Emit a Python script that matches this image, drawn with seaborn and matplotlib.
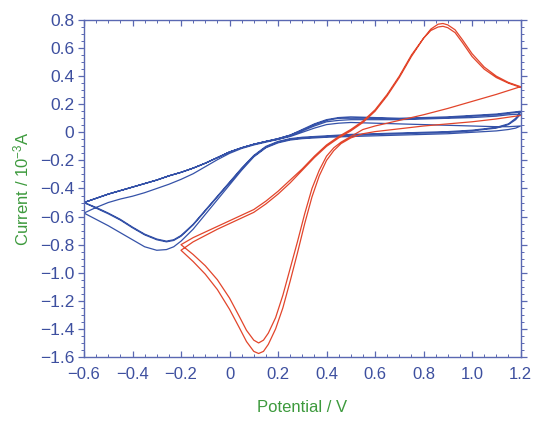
import numpy as np
import pandas as pd
import matplotlib
matplotlib.use("Agg")
import matplotlib.pyplot as plt
from matplotlib.ticker import MultipleLocator, FuncFormatter
import seaborn as sns

# ---- red CV (-0.2 .. 1.2 V), two cycles ----
red_rev_v = [1.2, 1.1, 1.0, 0.9, 0.8, 0.7, 0.6, 0.55]
red_rev_c = [0.12, 0.095, 0.075, 0.06, 0.045, 0.025, 0.005, -0.01]
red_rev_b = [0.325, 0.27, 0.22, 0.17, 0.125, 0.085, 0.045, 0.02]

red_cat_v = [0.5, 0.46, 0.43, 0.4, 0.37, 0.34, 0.31, 0.28, 0.25, 0.22, 0.19,
             0.16, 0.14, 0.12, 0.1, 0.07, 0.04, 0.0, -0.05, -0.1, -0.15, -0.2]
red_cat_outer = [-0.04, -0.08, -0.13, -0.2, -0.31, -0.46, -0.65, -0.86, -1.06,
                 -1.25, -1.4, -1.51, -1.56, -1.575, -1.56, -1.49, -1.39, -1.26,
                 -1.12, -1.01, -0.92, -0.84]
red_cat_inner = [-0.03, -0.07, -0.11, -0.17, -0.27, -0.4, -0.58, -0.78, -0.97,
                 -1.16, -1.32, -1.43, -1.48, -1.5, -1.48, -1.41, -1.31, -1.18,
                 -1.05, -0.95, -0.87, -0.8]

red_an_v = [-0.15, -0.1, -0.05, 0.0, 0.05, 0.1, 0.15, 0.2, 0.25, 0.3, 0.35,
            0.4, 0.45, 0.5, 0.55, 0.6, 0.65, 0.7, 0.75, 0.8, 0.83, 0.86, 0.88,
            0.9, 0.93, 0.96, 1.0, 1.05, 1.1, 1.15, 1.2]
red_an_outer = [-0.78, -0.735, -0.69, -0.65, -0.61, -0.57, -0.51, -0.44, -0.36,
                -0.27, -0.18, -0.1, -0.04, 0.01, 0.07, 0.15, 0.26, 0.39, 0.54,
                0.67, 0.735, 0.77, 0.775, 0.765, 0.73, 0.66, 0.56, 0.465, 0.4,
                0.355, 0.325]
red_an_inner = [-0.75, -0.71, -0.67, -0.63, -0.59, -0.55, -0.49, -0.42, -0.34,
                -0.26, -0.17, -0.09, -0.03, 0.02, 0.08, 0.16, 0.27, 0.4, 0.55,
                0.67, 0.725, 0.75, 0.755, 0.745, 0.71, 0.64, 0.54, 0.45, 0.39,
                0.35, 0.32]

# ---- blue CV (-0.6 .. 1.2 V), four cycles ----
blue_fwd_v = [-0.6, -0.55, -0.5, -0.45, -0.4, -0.35, -0.3, -0.25, -0.2, -0.15,
              -0.1, -0.05, 0.0, 0.05, 0.1, 0.15, 0.2, 0.25, 0.3, 0.35, 0.4,
              0.45, 0.5, 0.6, 0.7, 0.8, 0.9, 1.0, 1.1, 1.15, 1.2]
blue_fwd1 = [-0.5, -0.47, -0.44, -0.415, -0.39, -0.365, -0.34, -0.31, -0.285,
             -0.255, -0.22, -0.18, -0.14, -0.11, -0.085, -0.065, -0.05, -0.03,
             0.0, 0.03, 0.055, 0.065, 0.07, 0.065, 0.06, 0.055, 0.05, 0.045,
             0.04, 0.04, 0.045]
blue_fwd2 = [-0.575, -0.535, -0.5, -0.475, -0.455, -0.43, -0.4, -0.37, -0.335,
             -0.295, -0.245, -0.195, -0.15, -0.115, -0.09, -0.07, -0.05, -0.025,
             0.01, 0.045, 0.075, 0.085, 0.09, 0.09, 0.09, 0.095, 0.1, 0.105,
             0.115, 0.125, 0.13]
blue_fwd3 = [-0.5, -0.47, -0.44, -0.415, -0.39, -0.365, -0.34, -0.31, -0.285,
             -0.255, -0.22, -0.18, -0.14, -0.11, -0.085, -0.065, -0.045, -0.02,
             0.02, 0.06, 0.09, 0.105, 0.11, 0.105, 0.1, 0.105, 0.11, 0.12,
             0.13, 0.14, 0.15]
blue_fwd4 = [-0.5, -0.47, -0.44, -0.415, -0.39, -0.365, -0.34, -0.31, -0.285,
             -0.255, -0.22, -0.18, -0.14, -0.11, -0.085, -0.065, -0.045, -0.02,
             0.015, 0.055, 0.085, 0.1, 0.1, 0.1, 0.095, 0.1, 0.105, 0.115,
             0.125, 0.135, 0.145]

blue_rev_v = [1.2, 1.18, 1.15, 1.1, 1.0, 0.9, 0.8, 0.7, 0.6, 0.5, 0.4, 0.3,
              0.25, 0.2, 0.15, 0.1, 0.05, 0.0, -0.05, -0.1, -0.15, -0.2, -0.23,
              -0.26, -0.3, -0.35, -0.4, -0.45, -0.5, -0.55, -0.6]
blue_rev1 = [0.045, 0.03, 0.02, 0.01, 0.0, -0.01, -0.015, -0.02, -0.025, -0.03,
             -0.035, -0.045, -0.055, -0.075, -0.11, -0.175, -0.27, -0.375,
             -0.48, -0.585, -0.69, -0.775, -0.815, -0.835, -0.84, -0.815,
             -0.765, -0.715, -0.665, -0.62, -0.575]
blue_rev2 = [0.13, 0.09, 0.055, 0.03, 0.01, 0.0, -0.005, -0.01, -0.015, -0.02,
             -0.03, -0.04, -0.05, -0.07, -0.105, -0.17, -0.26, -0.36, -0.46,
             -0.56, -0.66, -0.74, -0.77, -0.78, -0.765, -0.73, -0.68, -0.625,
             -0.58, -0.54, -0.5]
blue_rev3 = [0.15, 0.1, 0.06, 0.035, 0.015, 0.005, 0.0, -0.005, -0.01, -0.015,
             -0.025, -0.035, -0.045, -0.065, -0.1, -0.165, -0.255, -0.355,
             -0.455, -0.555, -0.655, -0.735, -0.765, -0.775, -0.76, -0.725,
             -0.675, -0.62, -0.575, -0.535, -0.5]

RED = "#e2452b"
BLUE = "#3552a8"
AXIS = "#5a68b2"
TICK_TXT = "#3d4f9f"
LABEL = "#3d9a3d"

red_v = np.concatenate([red_rev_v, red_cat_v, red_an_v,
                        red_rev_v, red_cat_v, red_an_v])
red_i = np.concatenate([red_rev_c, red_cat_outer, red_an_outer,
                        red_rev_b, red_cat_inner, red_an_inner])

blue_v = np.concatenate([blue_fwd_v, blue_rev_v, blue_fwd_v, blue_rev_v,
                         blue_fwd_v, blue_rev_v, blue_fwd_v])
blue_i = np.concatenate([blue_fwd1, blue_rev1, blue_fwd2, blue_rev2,
                         blue_fwd3, blue_rev3, blue_fwd4])

red_df = pd.DataFrame({"E": red_v, "I": red_i})
blue_df = pd.DataFrame({"E": blue_v, "I": blue_i})

sns.set_style("ticks")
plt.rcParams["font.family"] = ["Liberation Sans", "DejaVu Sans"]
plt.rcParams["mathtext.default"] = "regular"

fig = plt.figure(figsize=(5.35, 4.25), dpi=100)
ax = fig.add_axes([0.157, 0.16, 0.816, 0.793])

sns.lineplot(data=blue_df, x="E", y="I", sort=False, estimator=None,
             color=BLUE, lw=0.9, ax=ax)
sns.lineplot(data=red_df, x="E", y="I", sort=False, estimator=None,
             color=RED, lw=0.9, ax=ax)

ax.set_xlim(-0.6, 1.2)
ax.set_ylim(-1.6, 0.8)

ax.xaxis.set_major_locator(MultipleLocator(0.2))
ax.xaxis.set_minor_locator(MultipleLocator(0.05))
ax.yaxis.set_major_locator(MultipleLocator(0.2))
ax.yaxis.set_minor_locator(MultipleLocator(0.05))


def fmt(v, pos):
    if abs(v) < 1e-9:
        return "0"
    return f"{v:.1f}".replace("-", "\u2212")


ax.xaxis.set_major_formatter(FuncFormatter(fmt))
ax.yaxis.set_major_formatter(FuncFormatter(fmt))

for s in ax.spines.values():
    s.set_visible(True)
    s.set_color(AXIS)
    s.set_linewidth(1.0)

ax.tick_params(axis="x", which="both", direction="in", top=True, bottom=True,
               colors=AXIS, labelcolor=TICK_TXT, labelsize=12, pad=7)
ax.tick_params(axis="y", which="both", direction="out", left=True, right=True,
               colors=AXIS, labelcolor=TICK_TXT, labelsize=12.5, pad=3)
ax.tick_params(which="major", length=4, width=0.9)
ax.tick_params(which="minor", length=2.5, width=0.7)

ax.set_xlabel("Potential / V", color=LABEL, fontsize=12, labelpad=13)
ax.set_ylabel("Current / 10$^{-3}$A", color=LABEL, fontsize=12, labelpad=6)

fig.savefig("out.png", dpi=100)
